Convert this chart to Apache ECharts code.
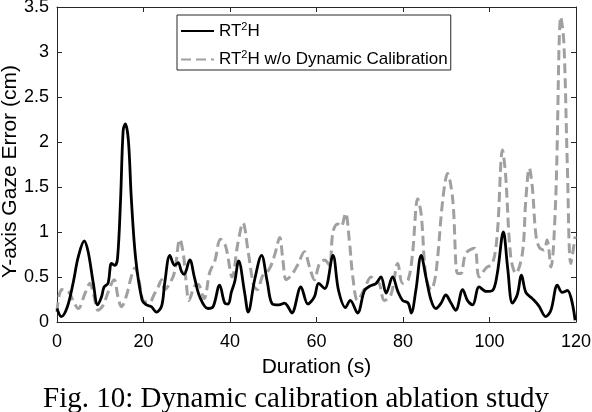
<!DOCTYPE html>
<html>
<head>
<meta charset="utf-8">
<script src="https://cdn.jsdelivr.net/npm/echarts@6/dist/echarts.min.js"></script>
<style>
  html, body { margin: 0; padding: 0; background: #fff; }
  #chart { width: 592px; height: 412px; }
</style>
</head>
<body>
<div id="chart"></div>
<script>
// values (time in s, error in cm)
var rtTime = [0, 1, 2.4, 3.8, 4.9, 6.3, 7.2, 8.4, 9.4, 10.3, 10.9, 11.8, 12.6, 13.4, 14, 14.7, 15.3, 15.8, 16.5, 17.2, 18.2, 19.7, 20.7, 21.8, 23, 24.2, 24.9, 26.1, 27.2, 28, 28.8, 29.4, 30.7, 31.8, 33, 34.9, 36.1, 37.6, 38.8, 39.6, 40.3, 41.1, 42, 43.4, 44.2, 45.7, 47.3, 48.6, 49.8, 51.3, 52.6, 53.4, 54.3, 56.4, 58, 59.5, 60.5, 61.9, 63.8, 65.1, 66.7, 67.8, 69.5, 71.1, 72.4, 73.8, 74.9, 76.1, 77.6, 78.8, 79.9, 81.2, 81.9, 83, 84.2, 85.3, 86.5, 87.6, 88.8, 89.9, 91.1, 92.2, 93.8, 94.9, 96.1, 97.6, 99.2, 100.7, 101.8, 103.2, 104.2, 105.3, 106.4, 107.4, 108.4, 109.9, 111.4, 113, 114.2, 115.7, 116.8, 118, 119.8];
var rtError = [0.15, 0.06, 0.17, 0.45, 0.72, 0.9, 0.78, 0.43, 0.19, 0.28, 0.39, 0.43, 0.65, 0.63, 0.71, 1.36, 2.13, 2.2, 2.02, 1.36, 0.7, 0.24, 0.19, 0.17, 0.11, 0.18, 0.43, 0.74, 0.63, 0.66, 0.56, 0.53, 0.69, 0.49, 0.28, 0.15, 0.17, 0.41, 0.21, 0.2, 0.33, 0.45, 0.68, 0.32, 0.11, 0.47, 0.74, 0.45, 0.2, 0.19, 0.21, 0.17, 0.1, 0.39, 0.2, 0.28, 0.43, 0.37, 0.74, 0.35, 0.16, 0.24, 0.1, 0.35, 0.4, 0.43, 0.5, 0.32, 0.5, 0.34, 0.24, 0.21, 0.1, 0.36, 0.74, 0.5, 0.24, 0.15, 0.21, 0.3, 0.21, 0.13, 0.36, 0.24, 0.19, 0.39, 0.34, 0.35, 0.54, 1.0, 0.6, 0.21, 0.3, 0.52, 0.33, 0.26, 0.18, 0.06, 0.13, 0.41, 0.33, 0.35, 0.02];

var noCalTime = [0, 1.1, 2.6, 3.8, 4.9, 6.5, 7.6, 8.5, 9.5, 10.7, 11.8, 13.2, 14.1, 14.9, 16.1, 17.1, 18, 18.9, 19.9, 21.4, 22.4, 23.4, 24.2, 24.9, 26.1, 27.2, 28.4, 29.2, 29.9, 30.5, 31.8, 32.6, 34, 35.3, 36.5, 37.8, 39, 40.5, 41.8, 43, 44.2, 45.5, 46.3, 47.6, 49, 50.3, 51.5, 52.2, 53, 54.2, 55.7, 57.2, 58.4, 59.5, 60.7, 61.9, 63, 63.8, 64.9, 65.7, 66.7, 67.6, 68.4, 69.5, 71.1, 72.6, 73.6, 74.5, 75.7, 77.2, 78.8, 79.9, 81.2, 82.2, 83.4, 84.2, 85.3, 86.5, 87.6, 89.2, 90.3, 91.5, 92.6, 93.4, 94.5, 96.5, 97.6, 99.2, 100.7, 101.8, 103, 103.7, 104.9, 106.1, 107.6, 108.4, 109.2, 109.9, 110.7, 111.5, 112.6, 113.3, 114.2, 115.3, 116.5, 117.2, 118, 118.8, 119.8];
var noCalError = [0.11, 0.36, 0.34, 0.23, 0.15, 0.32, 0.43, 0.3, 0.13, 0.19, 0.33, 0.47, 0.28, 0.17, 0.3, 0.49, 0.6, 0.48, 0.24, 0.22, 0.3, 0.39, 0.47, 0.36, 0.43, 0.56, 0.92, 0.76, 0.43, 0.24, 0.4, 0.42, 0.26, 0.55, 0.68, 0.92, 0.84, 0.5, 0.87, 1.1, 0.78, 0.4, 0.36, 0.52, 0.58, 0.74, 0.94, 0.7, 0.47, 0.52, 0.64, 0.78, 0.61, 0.47, 0.65, 0.69, 0.63, 1.0, 1.09, 1.06, 1.21, 0.9, 0.5, 0.24, 0.37, 0.5, 0.45, 0.43, 0.24, 0.3, 0.65, 0.43, 0.47, 0.76, 1.37, 1.2, 0.5, 0.36, 0.54, 1.36, 1.65, 1.36, 0.54, 0.54, 0.76, 0.82, 0.5, 0.6, 0.65, 0.98, 1.91, 1.65, 0.73, 0.54, 0.76, 1.36, 1.71, 1.5, 0.98, 0.83, 0.8, 0.91, 0.61, 1.36, 3.39, 3.1, 1.73, 0.65, 0.95];

var xTicks = [0, 20, 40, 60, 80, 100, 120];
var yTicks = [0, 0.5, 1, 1.5, 2, 2.5, 3, 3.5];

var seriesNames = ['RT2H', 'RT2H w/o Dynamic Calibration'];

function pairs(xs, ys) {
  return xs.map(function (x, i) { return [x, ys[i]]; });
}

var chart = echarts.init(document.getElementById('chart'));

var axisColor = '#262626';
var font = '"Liberation Sans", Arial, sans-serif';

function boxAxis(extra) {
  // plain copy of the axis, used for the top / right side of the box
  return Object.assign({
    type: 'value',
    axisLine: { show: true, onZero: false, lineStyle: { color: axisColor, width: 1 } },
    axisTick: { show: true, inside: true, length: 5, lineStyle: { color: axisColor } },
    axisLabel: { show: false },
    splitLine: { show: false }
  }, extra);
}

var option = {
  animation: false,
  backgroundColor: '#fff',
  title: {
    text: 'Fig. 10: Dynamic calibration ablation study',
    left: 'center',
    top: 385,
    padding: 0,
    textStyle: { fontFamily: '"Liberation Serif", "Times New Roman", serif', fontSize: 29, fontWeight: 'normal', color: '#000' }
  },
  grid: { left: 57, right: 16, top: 7, bottom: 90, outerBoundsMode: 'none', containLabel: false },
  legend: {
    orient: 'vertical',
    left: 177,
    top: 15,
    data: seriesNames,
    borderColor: axisColor,
    borderWidth: 1,
    padding: [6, 3, 2, 3],
    itemWidth: 33,
    itemHeight: 14,
    itemGap: 10,
    itemStyle: { opacity: 0 },
    formatter: function (name) {
      return name === 'RT2H' ? '{t|RT}{s|2}{t|H}' : '{t|RT}{s|2}{t|H w/o Dynamic Calibration}';
    },
    textStyle: {
      rich: {
        t: { fontFamily: font, fontSize: 17, color: '#000' },
        s: { fontFamily: font, fontSize: 11, color: '#000', padding: [0, 0, 9, 0] }
      }
    }
  },
  xAxis: [
    boxAxis({
      position: 'bottom',
      min: 0, max: 120, interval: 20,
      name: 'Duration (s)',
      nameLocation: 'middle',
      nameGap: 35,
      nameMoveOverlap: false,
      nameTextStyle: { fontFamily: font, fontSize: 21, color: '#000' },
      axisLabel: { show: true, fontFamily: font, fontSize: 18, color: '#000', margin: 11,
        formatter: function (v) { return xTicks.indexOf(v) >= 0 ? String(v) : ''; } }
    }),
    boxAxis({ position: 'top', min: 0, max: 120, interval: 20 })
  ],
  yAxis: [
    boxAxis({
      position: 'left',
      min: 0, max: 3.5, interval: 0.5,
      name: 'Y-axis Gaze Error (cm)',
      nameLocation: 'middle',
      nameGap: 36,
      nameMoveOverlap: false,
      nameTextStyle: { fontFamily: font, fontSize: 21, color: '#000', padding: [0, 14, 0, 0] },
      axisLabel: { show: true, fontFamily: font, fontSize: 18, color: '#000', margin: 8,
        formatter: function (v) { return yTicks.indexOf(v) >= 0 ? String(v) : ''; } }
    }),
    boxAxis({ position: 'right', min: 0, max: 3.5, interval: 0.5 })
  ],
  series: [
    {
      name: seriesNames[1],
      type: 'line',
      data: pairs(noCalTime, noCalError),
      smooth: 0.35,
      symbol: 'none',
      lineStyle: { color: '#a0a0a0', width: 3, type: [10, 5] },
      itemStyle: { color: '#a0a0a0' },
      z: 2
    },
    {
      name: seriesNames[0],
      type: 'line',
      data: pairs(rtTime, rtError),
      smooth: 0.35,
      symbol: 'none',
      lineStyle: { color: '#000', width: 2.8 },
      itemStyle: { color: '#000' },
      z: 3
    }
  ]
};

chart.setOption(option);
</script>
</body>
</html>
